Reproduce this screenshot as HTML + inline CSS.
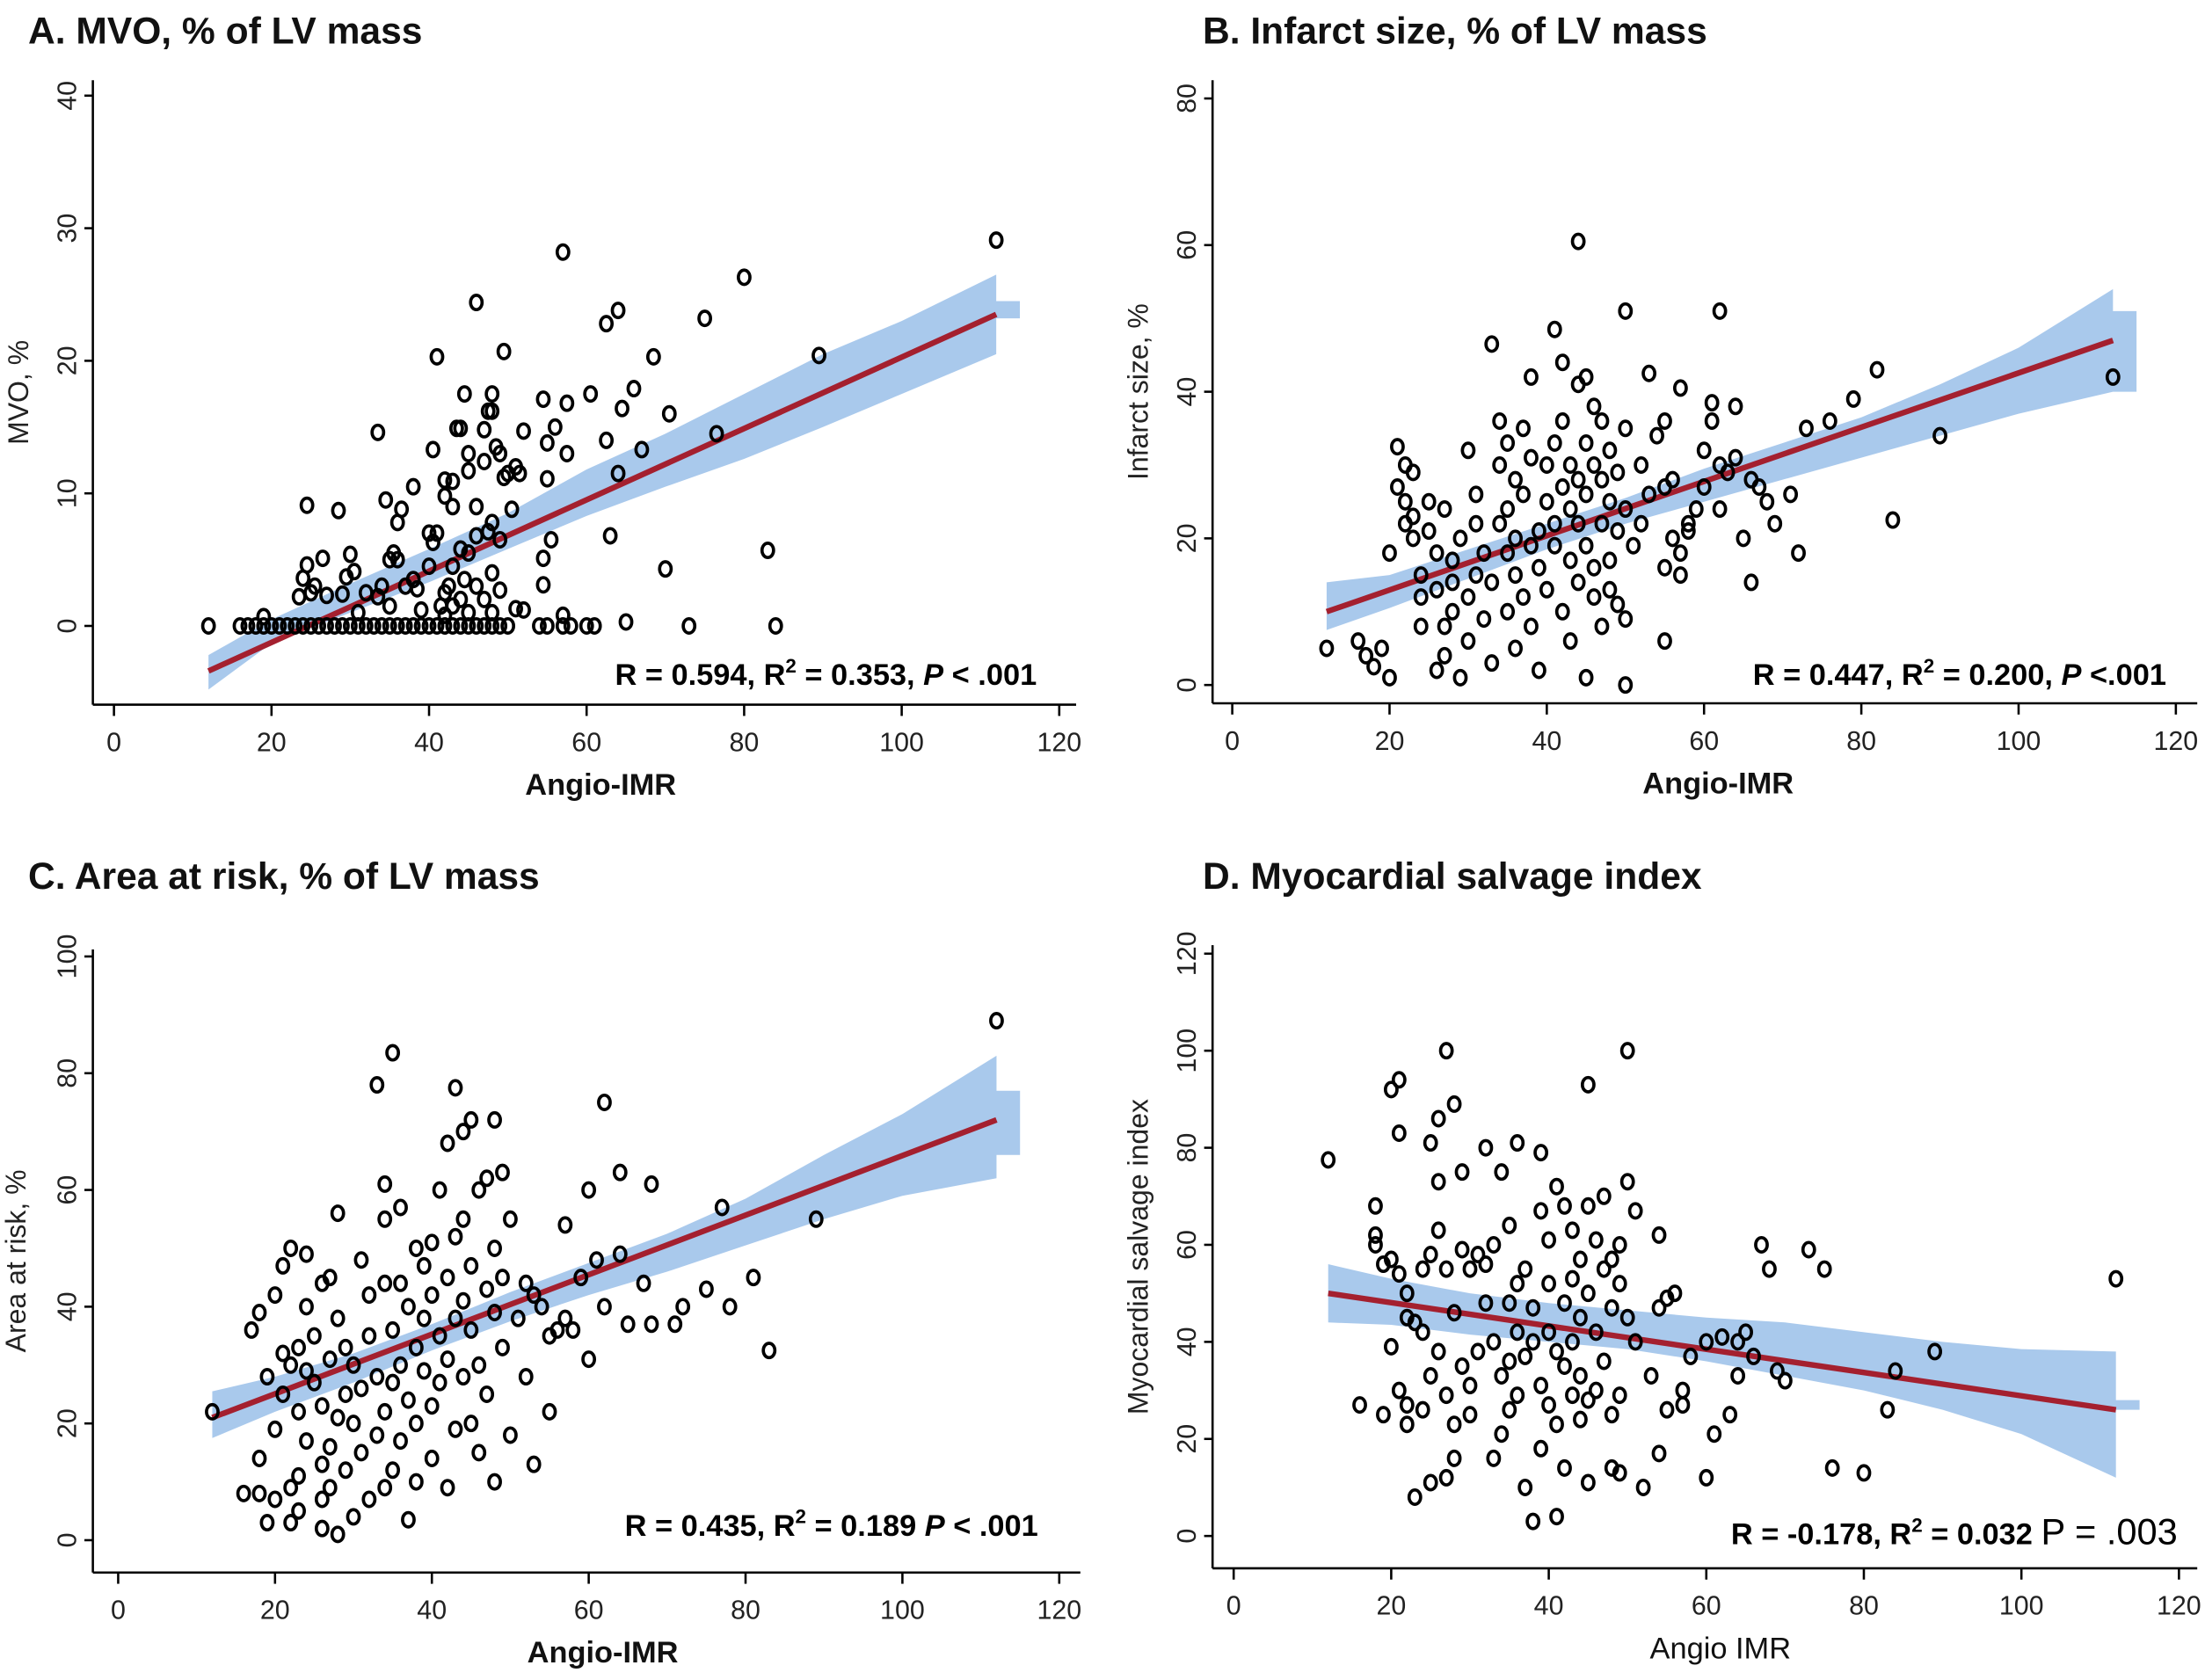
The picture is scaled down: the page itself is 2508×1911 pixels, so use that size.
<!DOCTYPE html>
<html><head><meta charset="utf-8">
<style>
html,body{margin:0;padding:0;background:#fff;}
svg{display:block;}
text{font-family:"Liberation Sans",Arial,sans-serif;}
</style></head>
<body>
<svg id="fig" width="2508" height="1911" viewBox="0 0 1567.5 1194.4" xmlns="http://www.w3.org/2000/svg">
<rect width="1567.5" height="1194.4" fill="#fff"/>
</svg>
<script>
// ---- data ----
const xTickLabels = [0,20,40,60,80,100,120];
const ticksA = [0,10,20,30,40];
const ticksB = [0,20,40,60,80];
const ticksC = [0,20,40,60,80,100];
const ticksD = [0,20,40,60,80,100,120];

const bandX = [12,20,30,40,50,60,70,80,90,100,112,112,115];
const bandLoA = [-4.8,-1.3,1.0,3.3,5.8,8.3,10.5,12.6,15.0,17.5,20.5,23.2,23.2];
const bandHiA = [-2.2,0.5,3.2,5.8,8.5,11.8,14.5,17.5,20.5,23.0,26.5,24.5,24.5];
const bandLoB = [7.5,10.5,14.5,18.5,22,25,28,31,34,37,40,40,40];
const bandHiB = [14,15,18.5,22,25.5,29.5,33,36.5,41,46,54,51,51];
const bandLoC = [17.5,22,27,32.5,37.5,42,46,50.5,55,59,62,66,66];
const bandHiC = [25.5,28,32,37,42.5,47.5,52.5,58.5,66,73,83,77,77];
const bandLoD = [44,43.5,41.5,40,38.5,36,33,30,26,21,12,26,26];
const bandHiD = [56,53,50,48,46.5,45,44,42,40,38.5,38,28,28];

const fitX = [12,112];
const fitA = [-3.4,23.5];
const fitB = [10,47];
const fitC = [21,72];
const fitD = [50,26];

const ptsA = [[12,0],[16,0],[17,0],[18,0],[19,0],[20,0],[21,0],[22,0],[23,0],[24,0],[25,0],[26,0],[27,0],[28,0],[29,0],[30,0],[31,0],[32,0],[33,0],[34,0],[35,0],[36,0],[37,0],[38,0],[39,0],[40,0],[41,0],[42,0],[43,0],[44,0],[45,0],[46,0],[47,0],[48,0],[49,0],[50,0],[54,0],[55,0],[57,0],[58,0],[60,0],[61,0],[65,0.3],[73,0],[84,0],
[24.5,9.1],[28.5,8.7],[33.5,14.6],[34.5,9.5],[36.5,8.8],[36,7.8],[38,10.5],[40.5,13.3],[41,20.3],[42,11],[42,9.8],[43,10.9],[43,9],[43.5,14.9],[44,14.9],[44.5,17.5],[45,13],[45,11.7],[46,24.4],[46,9],[47,12.4],[47,14.8],[47.5,16.2],[48,16.2],[48,17.5],[48.5,13.5],[49,13],[49.5,20.7],[49.5,11.2],[50,11.5],[50.5,8.8],[51,12],[51.5,11.5],[52,14.7],[54.5,17.1],[55,13.8],[55,11.1],[56,15],[57,28.2],[57.5,13],[57.5,16.8],[60.5,17.5],[62.5,14],[62.5,22.8],[63,6.8],[64,23.8],[64.5,16.4],[64,11.5],[66,17.9],[67,13.3],[68.5,20.3],[70.5,16],[70,4.3],[75,23.2],[76.5,14.5],[80,26.3],[83,5.7],[89.5,20.4],[112,29.1],[55.5,6.5],[54.5,5.1],[54.5,3.1],[52,1.2],[51,1.3],[49,6.5],[48,7.8],[48,4],[47.5,7.1],[46,6.8],[45,5.5],[44,5.8],[43,4.5],[42.5,3],[42,2.5],[41.5,1.5],[41,7],[40.5,6.3],[40,7],[40,4.5],[38.5,2.8],[38,3.5],[37,3],[36,5],[35.5,5.5],[35,5],[34,3],[33.5,2.2],[32,2.5],[30.5,4.1],[30,5.4],[29.5,3.7],[29,2.4],[26.5,5.1],[25.5,3],[24.5,4.6],[24,3.6],[23.5,2.2],[25,2.5],[27,2.3],[31,1],[44,2],[45,1],[46,3],[47,2],[48,1],[49,2.7],[43,1.5],[44.5,3.5],[42,0.8],[35,1.5],[39,1.2],[19,0.7],[57,0.8]];

const ptsB = [[12,5],[16,6],[17,4],[18,2.5],[19,5],[20,1],[20,18],[21,32.5],[21,27],[22,25],[22,22],[22,30],[23,29],[23,23],[23,20],[24,8],[24,15],[24,12],[25,25],[25,21],[26,18],[26,2],[26,13],[27,4],[27,8],[27,24],[28,10],[28,14],[28,17],[29,1],[29,20],[30,6],[30,12],[30,32],[31,15],[31,26],[31,22],[32,9],[32,18],[33,46.5],[33,3],[33,14],[34,22],[34,36],[34,30],[35,10],[35,24],[35,33],[35,18],[36,5],[36,28],[36,20],[36,15],[37,12],[37,35],[37,26],[38,8],[38,42],[38,19],[38,31],[39,21],[39,16],[39,2],[40,25],[40,13],[40,30],[41,48.5],[41,33],[41,22],[41,19],[42,10],[42,27],[42,36],[42,44],[43,17],[43,30],[43,6],[43,24],[44,60.5],[44,41],[44,22],[44,14],[44,28],[45,42],[45,33],[45,19],[45,1],[45,26],[46,12],[46,30],[46,16],[46,38],[47,22],[47,8],[47,28],[47,36],[48,17],[48,32],[48,25],[48,13],[49,21],[49,29],[49,11],[50,24],[50,51],[50,0],[50,35],[50,9],[51,19],[52,30],[52,22],[53,42.5],[53,26],[54,34],[55,16],[55,6],[55,36],[55,27],[56,20],[56,28],[57,15],[57,18],[57,40.5],[58,22],[58,21],[59,24],[60,32],[60,27],[61,38.5],[61,36],[62,51],[62,30],[62,24],[63,29],[64,38],[64,31],[65,20],[66,28],[66,14],[67,27],[68,25],[69,22],[71,26],[72,18],[73,35],[76,36],[79,39],[82,43],[84,22.5],[90,34],[112,42]];

const ptsC = [[12,22],[16,8],[17,36],[18,39],[18,8],[18,14],[19,28],[19,3],[20,19],[20,42],[20,7],[21,47],[21,32],[21,25],[22,30],[22,9],[22,3],[22,50],[23,33],[23,11],[23,5],[23,22],[24,29],[24,49],[24,40],[24,17],[25,27],[25,35],[26,7],[26,13],[26,23],[26,2],[26,44],[27,31],[27,9],[27,16],[27,45],[28,56],[28,21],[28,1],[28,38],[29,12],[29,25],[29,33],[30,30],[30,4],[30,20],[31,48],[31,26],[31,15],[32,42],[32,7],[32,35],[33,78],[33,18],[33,28],[34,61],[34,55],[34,44],[34,22],[34,9],[35,83.5],[35,36],[35,12],[35,27],[36,57],[36,30],[36,17],[36,44],[37,3.5],[37,40],[37,24],[38,50],[38,10],[38,33],[38,20],[39,47],[39,29],[39,38],[40,51],[40,14],[40,42],[40,23],[41,60],[41,35],[41,27],[42,68],[42,45],[42,9],[42,31],[43,77.5],[43,52],[43,38],[43,19],[44,70],[44,41],[44,28],[44,55],[45,72],[45,36],[45,20],[45,47],[46,30],[46,15],[46,60],[47,62],[47,43],[47,25],[48,72],[48,39],[48,10],[48,50],[49,63],[49,45],[49,33],[50,55],[50,18],[51,38],[52,44],[52,28],[53,13],[53,42],[54,40],[55,35],[55,22],[56,36],[57,54],[57,38],[58,36],[59,45],[60,31],[60,60],[61,48],[62,75],[62,40],[64,49],[64,63],[65,37],[67,44],[68,61],[68,37],[71,37],[72,40],[75,43],[77,57],[78,40],[81,45],[83,32.5],[89,55],[112,89]];

const ptsD = [[12,77.5],[16,27],[18,68],[18,62],[18,60],[19,25],[19,56],[20,92],[20,39],[20,57],[21,94],[21,83],[21,54],[21,30],[22,27],[22,23],[22,50],[22,45],[23,8],[23,44],[24,42],[24,26],[24,55],[25,81],[25,11],[25,33],[25,58],[26,86],[26,73],[26,63],[26,38],[27,100],[27,29],[27,12],[27,55],[28,89],[28,23],[28,46],[28,16],[29,75],[29,59],[29,35],[30,55],[30,25],[30,31],[31,38],[31,58],[32,80],[32,56],[32,48],[33,40],[33,60],[33,16],[34,75],[34,33],[34,21],[35,64],[35,48],[35,36],[35,26],[36,81],[36,52],[36,42],[36,29],[37,55],[37,37],[37,10],[38,47],[38,3],[38,40],[39,79],[39,67],[39,31],[39,18],[40,61],[40,52],[40,42],[40,27],[41,72],[41,38],[41,4],[41,23],[42,68],[42,48],[42,35],[42,14],[43,63],[43,53],[43,29],[43,40],[44,57],[44,45],[44,24],[44,33],[45,93],[45,68],[45,50],[45,28],[45,11],[46,61],[46,42],[46,30],[47,70],[47,55],[47,36],[48,57],[48,47],[48,25],[48,14],[49,60],[49,52],[49,29],[49,13],[50,100],[50,73],[50,45],[51,67],[51,40],[52,10],[53,33],[54,62],[54,47],[54,17],[55,49],[55,26],[56,50],[57,30],[57,27],[58,37],[60,40],[60,12],[61,21],[62,41],[63,25],[64,33],[64,40],[65,42],[66,37],[67,60],[68,55],[69,34],[70,32],[73,59],[75,55],[76,14],[80,13],[83,26],[84,34],[89,38],[112,53]];

// ---- drawing ----
const NS = "http://www.w3.org/2000/svg";
const svg = document.getElementById('fig');
function mk(tag, attrs, parent, txt){
  const e = document.createElementNS(NS, tag);
  for (const k in attrs) e.setAttribute(k, attrs[k]);
  if (txt !== undefined) e.textContent = txt;
  (parent||svg).appendChild(e);
  return e;
}

const panels = [
  {id:'a', title:'A. MVO, % of LV mass', tx:20, ty:31, ax:66, top:57, bot:501, right:765, x0:81, xs:5.6, y0:445, ys:9.425,
   yt:ticksA, ytitle:'MVO, %', ytx:14, xtitle:'Angio-IMR', xbold:true, pts:ptsA, lo:bandLoA, hi:bandHiA, fit:fitA,
   stat:['R = 0.594, R','2',' = 0.353, ','P',' < .001'], sx:737, sy:487},
  {id:'b', title:'B. Infarct size, % of LV mass', tx:855, ty:31, ax:862, top:57, bot:500, right:1562, x0:876, xs:5.59, y0:487, ys:5.2125,
   yt:ticksB, ytitle:'Infarct size, %', ytx:810, xtitle:'Angio-IMR', xbold:true, pts:ptsB, lo:bandLoB, hi:bandHiB, fit:fitB,
   stat:['R = 0.447, R','2',' = 0.200, ','P',' <.001'], sx:1540, sy:487},
  {id:'c', title:'C. Area at risk, % of LV mass', tx:20, ty:632, ax:66, top:675, bot:1118, right:768, x0:84, xs:5.575, y0:1095, ys:4.15,
   yt:ticksC, ytitle:'Area at risk, %', ytx:12, xtitle:'Angio-IMR', xbold:true, pts:ptsC, lo:bandLoC, hi:bandHiC, fit:fitC,
   stat:['R = 0.435, R','2',' = 0.189 ','P',' < .001'], sx:738, sy:1092},
  {id:'d', title:'D. Myocardial salvage index', tx:855, ty:632, ax:862, top:672, bot:1115, right:1562, x0:877, xs:5.6, y0:1092, ys:3.45,
   yt:ticksD, ytitle:'Myocardial salvage index', ytx:810, xtitle:'Angio IMR', xbold:false, pts:ptsD, lo:bandLoD, hi:bandHiD, fit:fitD,
   stat:null, sx:1548, sy:1098}
];

panels.forEach(p => {
  const X = v => p.x0 + p.xs*v;
  const Y = v => p.y0 - p.ys*v;
  const g = mk('g', {});
  
  

  const t = mk('text', {x:p.tx, y:p.ty, 'font-size':26.6, 'font-weight':'bold', fill:'#111'}, g, p.title);
  
  

  // band
  let d = '';
  bandX.forEach((x,i)=>{ d += (i?'L':'M') + X(x) + ',' + Y(p.hi[i]) + ' '; });
  for (let i=bandX.length-1;i>=0;i--) d += 'L' + X(bandX[i]) + ',' + Y(p.lo[i]) + ' ';
  const band = mk('path', {d:d+'Z', fill:'#a9c9ec'}, g);
  
  

  // fit line
  const fl = mk('line', {x1:X(fitX[0]), y1:Y(p.fit[0]), x2:X(fitX[1]), y2:Y(p.fit[1]), stroke:'#a4202f', 'stroke-width':4}, g);
  
  

  // points
  p.pts.forEach(pt => {
    const c = mk('ellipse', {cx:X(pt[0]), cy:Y(pt[1]), rx:4.1, ry:5.1, fill:'none', stroke:'#000', 'stroke-width':2.3}, g);
    
    
  });

  // axes
  const ya = mk('line', {x1:p.ax, y1:p.top, x2:p.ax, y2:p.bot, stroke:'#000', 'stroke-width':1.6}, g);
  
  
  const xa = mk('line', {x1:p.ax, y1:p.bot, x2:p.right, y2:p.bot, stroke:'#000', 'stroke-width':1.6}, g);
  
  

  xTickLabels.forEach(v => {
    mk('line', {x1:X(v), y1:p.bot, x2:X(v), y2:p.bot+8, stroke:'#000', 'stroke-width':1.6}, g);
    const tl = mk('text', {x:X(v), y:p.bot+33, 'font-size':19, 'text-anchor':'middle', fill:'#222'}, g, v);
    
    
  });
  p.yt.forEach(v => {
    mk('line', {x1:p.ax-6, y1:Y(v), x2:p.ax, y2:Y(v), stroke:'#000', 'stroke-width':1.6}, g);
    const lx = p.ax - 12;
    const tl = mk('text', {x:lx, y:Y(v), 'font-size':19, 'text-anchor':'middle', fill:'#222', transform:'rotate(-90 '+lx+' '+Y(v)+')'}, g, v);
    
    
  });

  const cy = (p.top + p.bot)/2;
  const yt = mk('text', {x:p.ytx+6, y:cy, 'font-size':20, 'text-anchor':'middle', fill:'#222', transform:'rotate(-90 '+(p.ytx+6)+' '+cy+')'}, g, p.ytitle);
  
  
  const xt = mk('text', {x:(p.x0+X(120))/2 + 10, y:p.bot+64, 'font-size':21.5, 'font-weight':p.xbold?'bold':'normal', 'text-anchor':'middle', fill:'#111'}, g, p.xtitle);
  
  

  // stats
  const st = mk('text', {x:p.sx, y:p.sy, 'font-size':21.5, 'font-weight':'bold', 'text-anchor':'end', fill:'#000'}, g);
  
  
  if (p.stat) {
    mk('tspan', {}, st, p.stat[0]);
    mk('tspan', {'font-size':14, dy:-9}, st, p.stat[1]);
    mk('tspan', {dy:9}, st, p.stat[2]);
    mk('tspan', {'font-style':'italic'}, st, p.stat[3]);
    mk('tspan', {}, st, p.stat[4]);
  } else {
    mk('tspan', {}, st, 'R = -0.178, R');
    mk('tspan', {'font-size':14, dy:-9}, st, '2');
    mk('tspan', {dy:9}, st, ' = 0.032  ');
    mk('tspan', {'font-weight':'normal', 'font-size':26}, st, 'P = .003');
  }
});
</script>
</body></html>
